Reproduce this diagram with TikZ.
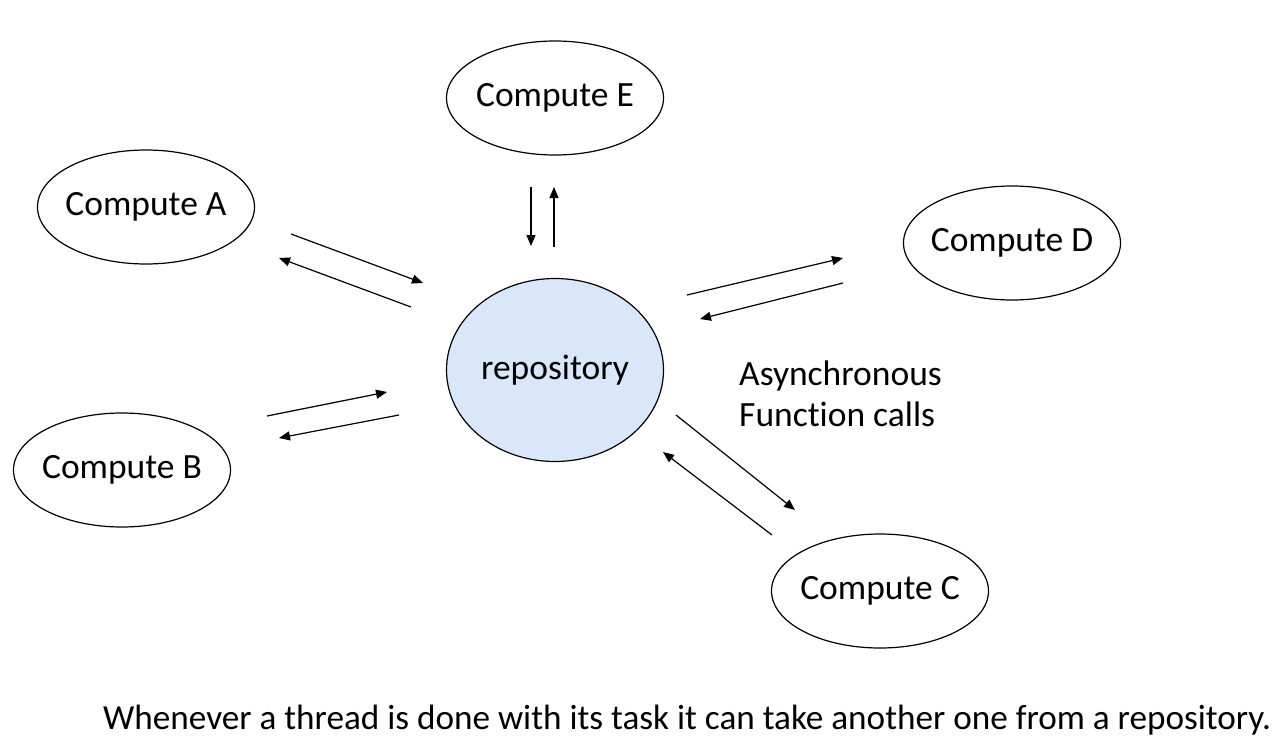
\documentclass[tikz,border=0pt]{standalone}
\usepackage{fontspec}
\setmainfont[Ligatures={NoCommon}]{Carlito}
\usetikzlibrary{shapes.geometric,arrows.meta}
\newcommand{\ctext}[1]{\raisebox{-2pt}{\makebox[0pt]{#1}}}
\begin{document}
\begin{tikzpicture}[x=1pt,y=-1pt,
  comp/.style={draw=black,line width=1.2pt,ellipse,minimum width=217pt,minimum height=114pt,inner sep=0pt,font=\fontsize{35.5}{41}\selectfont},
  repo/.style={comp,fill=repoblue,minimum height=183pt},
  arr/.style={line width=1.2pt,-{Triangle[length=11pt,width=9pt]}},
  lbl/.style={font=\fontsize{35.5}{41}\selectfont,inner sep=0pt}]
\definecolor{repoblue}{HTML}{DAE6FA}
\useasboundingbox (0,0) rectangle (1284,754);
\node[comp] (E) at (555,98) {\ctext{Compute E}};
\node[comp] (A) at (146,207) {\ctext{Compute A}};
\node[comp] (D) at (1012,243) {\ctext{Compute D}};
\node[comp] (B) at (122,470) {\ctext{Compute B}};
\node[comp] (C) at (880,591) {\ctext{Compute C}};
\node[repo] (R) at (555,370) {\ctext{repository}};
% arrow end points
\coordinate (e1a) at (531,187); \coordinate (e1b) at (531,246);
\coordinate (e2a) at (554,247); \coordinate (e2b) at (554,187);
\coordinate (a1a) at (291,234); \coordinate (a1b) at (423,283);
\coordinate (a2a) at (411,307); \coordinate (a2b) at (279,258);
\coordinate (b1a) at (267,416); \coordinate (b1b) at (387,392);
\coordinate (b2a) at (399,415); \coordinate (b2b) at (279,438);
\coordinate (d1a) at (687,295); \coordinate (d1b) at (843,258);
\coordinate (d2a) at (843,283); \coordinate (d2b) at (700,319);
\coordinate (c1a) at (676,415); \coordinate (c1b) at (795,510);
\coordinate (c2a) at (772,535); \coordinate (c2b) at (663,452);
\draw[arr] (e1a) -- (e1b);
\draw[arr] (e2a) -- (e2b);
\draw[arr] (a1a) -- (a1b);
\draw[arr] (a2a) -- (a2b);
\draw[arr] (b1a) -- (b1b);
\draw[arr] (b2a) -- (b2b);
\draw[arr] (d1a) -- (d1b);
\draw[arr] (d2a) -- (d2b);
\draw[arr] (c1a) -- (c1b);
\draw[arr] (c2a) -- (c2b);
\node[lbl,anchor=west,align=left] (async) at (739,394) {Asynchronous\\Function calls};
\node[lbl,anchor=center,font=\fontsize{35.2}{41}\selectfont] (note) at (687,720) {Whenever a thread is done with its task it can take another one from a repository.};
\end{tikzpicture}
\end{document}
